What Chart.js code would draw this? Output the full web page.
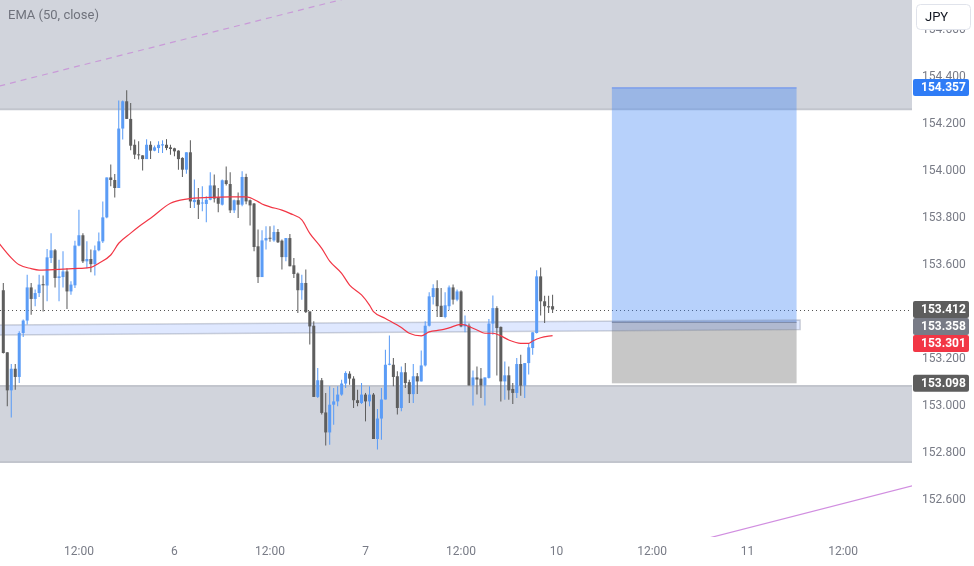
<!DOCTYPE html>
<html>
<head>
<meta charset="utf-8">
<script src="https://cdn.jsdelivr.net/npm/chart.js@4.4.1/dist/chart.umd.min.js"></script>
<style>
html, body { margin: 0; padding: 0; background: #fff; }
#wrap { width: 974px; height: 566px; position: relative; }
</style>
</head>
<body>
<div id="wrap"><canvas id="chart" width="974" height="566"></canvas></div>
<script>
// 30 min candles, [open, high, low, close]
var ohlc = [
  [153.494, 153.525, 153.225, 153.227], [153.230, 153.230, 153.000, 153.068], [153.068, 153.180, 152.953, 153.160],
  [153.160, 153.180, 153.071, 153.125], [153.125, 153.319, 153.099, 153.312], [153.312, 153.370, 153.295, 153.365],
  [153.365, 153.560, 153.348, 153.506], [153.506, 153.525, 153.390, 153.457], [153.457, 153.497, 153.426, 153.482],
  [153.482, 153.560, 153.465, 153.518], [153.520, 153.557, 153.404, 153.515], [153.514, 153.669, 153.447, 153.634],
  [153.631, 153.737, 153.610, 153.664], [153.664, 153.670, 153.506, 153.546], [153.546, 153.624, 153.447, 153.553],
  [153.550, 153.660, 153.506, 153.574], [153.574, 153.588, 153.414, 153.489], [153.489, 153.532, 153.475, 153.518],
  [153.515, 153.705, 153.503, 153.684], [153.684, 153.837, 153.681, 153.728], [153.728, 153.737, 153.610, 153.617],
  [153.617, 153.702, 153.588, 153.627], [153.627, 153.667, 153.571, 153.605], [153.605, 153.684, 153.557, 153.664],
  [153.664, 153.740, 153.660, 153.702], [153.702, 153.872, 153.695, 153.804], [153.804, 153.974, 153.800, 153.974],
  [153.974, 154.029, 153.936, 153.963], [153.963, 153.989, 153.889, 153.929], [153.929, 154.301, 153.929, 154.182],
  [154.182, 154.301, 154.135, 154.298], [154.298, 154.345, 154.223, 154.223], [154.223, 154.291, 154.090, 154.109],
  [154.113, 154.135, 154.052, 154.071], [154.071, 154.128, 154.050, 154.068], [154.068, 154.068, 154.003, 154.052],
  [154.052, 154.137, 154.052, 154.113], [154.113, 154.128, 154.052, 154.088], [154.088, 154.110, 154.085, 154.102],
  [154.099, 154.128, 154.078, 154.113], [154.110, 154.132, 154.078, 154.115], [154.113, 154.137, 154.090, 154.099],
  [154.102, 154.113, 154.071, 154.095], [154.098, 154.100, 154.064, 154.085], [154.088, 154.090, 154.007, 154.052],
  [154.057, 154.060, 153.976, 154.007], [154.007, 154.081, 153.990, 154.081], [154.081, 154.132, 153.844, 153.872],
  [153.869, 153.965, 153.844, 153.879], [153.879, 153.929, 153.797, 153.858], [153.863, 153.936, 153.830, 153.865],
  [153.861, 153.894, 153.783, 153.879], [153.879, 153.996, 153.877, 153.940], [153.940, 153.986, 153.867, 153.884],
  [153.890, 153.929, 153.826, 153.862], [153.858, 153.965, 153.855, 153.962], [153.962, 154.021, 153.940, 153.946],
  [153.946, 153.996, 153.823, 153.834], [153.834, 153.880, 153.823, 153.877], [153.877, 153.910, 153.801, 153.858],
  [153.858, 154.000, 153.851, 153.976], [153.976, 153.990, 153.860, 153.872], [153.877, 153.880, 153.769, 153.855],
  [153.863, 153.865, 153.660, 153.678], [153.681, 153.752, 153.525, 153.550], [153.550, 153.749, 153.550, 153.706],
  [153.706, 153.766, 153.667, 153.716], [153.715, 153.766, 153.700, 153.713], [153.706, 153.769, 153.700, 153.742],
  [153.742, 153.755, 153.695, 153.698], [153.705, 153.710, 153.582, 153.635], [153.635, 153.716, 153.617, 153.716],
  [153.716, 153.733, 153.596, 153.596], [153.600, 153.631, 153.546, 153.563], [153.565, 153.570, 153.397, 153.494],
  [153.494, 153.560, 153.454, 153.525], [153.525, 153.582, 153.397, 153.401], [153.404, 153.404, 153.263, 153.340],
  [153.343, 153.362, 153.040, 153.040], [153.040, 153.163, 153.035, 153.111], [153.111, 153.121, 152.965, 152.972],
  [152.974, 153.057, 152.833, 152.889], [152.889, 153.085, 152.837, 153.007], [153.007, 153.078, 152.922, 153.021],
  [153.021, 153.085, 153.000, 153.050], [153.050, 153.113, 153.045, 153.097], [153.097, 153.149, 153.078, 153.142],
  [153.139, 153.149, 153.092, 153.118], [153.118, 153.128, 152.993, 153.026], [153.026, 153.071, 153.000, 153.014],
  [153.014, 153.099, 153.010, 153.050], [153.050, 153.057, 152.936, 153.021], [153.021, 153.085, 153.000, 153.050],
  [153.050, 153.057, 152.861, 152.861], [152.861, 152.989, 152.816, 152.948], [152.948, 153.078, 152.858, 153.029],
  [153.029, 153.241, 153.029, 153.177], [153.177, 153.301, 153.175, 153.180], [153.177, 153.206, 153.085, 153.125],
  [153.128, 153.149, 152.965, 152.993], [152.993, 153.170, 152.979, 153.145], [153.145, 153.184, 153.078, 153.099],
  [153.103, 153.113, 153.014, 153.052], [153.052, 153.180, 153.014, 153.128], [153.128, 153.142, 153.052, 153.106],
  [153.106, 153.238, 153.106, 153.174], [153.174, 153.362, 153.170, 153.343], [153.343, 153.485, 153.340, 153.468],
  [153.465, 153.520, 153.433, 153.503], [153.503, 153.536, 153.380, 153.426], [153.428, 153.503, 153.380, 153.380],
  [153.380, 153.485, 153.375, 153.430], [153.426, 153.514, 153.409, 153.506], [153.506, 153.518, 153.433, 153.454],
  [153.454, 153.497, 153.447, 153.489], [153.489, 153.494, 153.337, 153.340], [153.340, 153.386, 153.315, 153.350],
  [153.343, 153.352, 153.089, 153.089], [153.089, 153.153, 153.004, 153.123], [153.123, 153.170, 153.050, 153.114],
  [153.118, 153.163, 153.035, 153.089], [153.089, 153.123, 153.004, 153.123], [153.121, 153.372, 153.118, 153.352],
  [153.352, 153.472, 153.305, 153.418], [153.418, 153.426, 153.131, 153.333], [153.338, 153.340, 153.021, 153.106],
  [153.106, 153.191, 153.028, 153.132], [153.132, 153.170, 153.028, 153.068], [153.074, 153.099, 153.010, 153.057],
  [153.057, 153.206, 153.035, 153.180], [153.180, 153.220, 153.045, 153.088], [153.088, 153.184, 153.035, 153.184],
  [153.184, 153.269, 153.135, 153.251], [153.248, 153.315, 153.220, 153.315], [153.312, 153.579, 153.310, 153.553],
  [153.553, 153.591, 153.386, 153.447], [153.447, 153.471, 153.355, 153.426], [153.426, 153.471, 153.397, 153.421],
  [153.426, 153.475, 153.397, 153.412]
];

// EMA(50) read at some candle positions
var emaIdx = [-1, 2, 4, 7, 9, 14, 19, 22, 24, 27, 29, 32, 34, 37, 42, 46, 52, 57, 61, 64, 65, 67, 70, 72, 75, 77,
  80, 82, 85, 87, 90, 92, 93, 96, 100, 102, 105, 107, 110, 112, 115, 116, 119, 121, 123, 125, 127, 130, 132, 133, 135, 138];
var emaVal = [153.692, 153.632, 153.602, 153.586, 153.580, 153.583, 153.587, 153.591, 153.609, 153.644, 153.694, 153.737,
  153.764, 153.800, 153.864, 153.882, 153.889, 153.891, 153.891, 153.871, 153.861, 153.849, 153.835, 153.821, 153.793,
  153.736, 153.672, 153.618, 153.566, 153.516, 153.474, 153.431, 153.403, 153.374, 153.335, 153.311, 153.300, 153.317,
  153.325, 153.334, 153.349, 153.346, 153.325, 153.311, 153.311, 153.300, 153.282, 153.268, 153.268, 153.278, 153.292, 153.301];

var timeTickIdx = [19, 43, 67, 91, 115, 139, 163, 187, 211];
var timeTickLabels = ['12:00', '6', '12:00', '7', '12:00', '10', '12:00', '11', '12:00'];
var priceTicks = [152.6, 152.8, 153.0, 153.2, 153.4, 153.6, 153.8, 154.0, 154.2, 154.4, 154.6];

// drawings, in candle index / price units
var topZone = [154.264, 155.2];
var bottomZone = [152.763, 153.086];
var bandLeft = [-1, 153.304, 153.346];
var bandRight = [200.2, 153.327, 153.367];
var posRange = [152.9, 199.3];
var posLevels = [154.357, 153.358, 153.098]; // target, entry, stop
var trendDash = [[-1, 154.363], [100, 154.795]];
var trendSolid = [[175, 152.430], [230, 152.669]];
var lastPrice = 153.412;
var tagPrices = [154.357, 153.412, 153.358, 153.301, 153.098];
var tagColors = ['#2f7cf6', '#5d5d5d', '#787b86', '#f23645', '#5d5d5d'];

var upColor = '#5b9cf6';
var downColor = '#5e5e5e';
var candleColors = ohlc.map(function (d) { return d[3] >= d[0] ? upColor : downColor; });

var drawings = {
  id: 'drawings',
  beforeDatasetsDraw: function (chart) {
    var ctx = chart.ctx, a = chart.chartArea, x = chart.scales.x, y = chart.scales.y;
    ctx.save();
    ctx.beginPath();
    ctx.rect(a.left, a.top, a.right - a.left, a.bottom - a.top);
    ctx.clip();

    [topZone, bottomZone].forEach(function (z) {
      var y0 = y.getPixelForValue(z[0]), y1 = y.getPixelForValue(z[1]);
      ctx.fillStyle = '#d1d4dc';
      ctx.fillRect(a.left, y1, a.right - a.left, y0 - y1);
      ctx.strokeStyle = '#c2c5cd';
      ctx.lineWidth = 2;
      ctx.beginPath();
      ctx.moveTo(a.left, y0); ctx.lineTo(a.right, y0);
      ctx.moveTo(a.left, y1); ctx.lineTo(a.right, y1);
      ctx.stroke();
    });

    // dashed trend line top-left
    ctx.strokeStyle = '#c99ad8';
    ctx.lineWidth = 1.2;
    ctx.setLineDash([6, 5]);
    ctx.beginPath();
    ctx.moveTo(x.getPixelForValue(trendDash[0][0]), y.getPixelForValue(trendDash[0][1]));
    ctx.lineTo(x.getPixelForValue(trendDash[1][0]), y.getPixelForValue(trendDash[1][1]));
    ctx.stroke();
    ctx.setLineDash([]);

    // solid trend line bottom-right
    ctx.strokeStyle = '#d18ee0';
    ctx.lineWidth = 1.2;
    ctx.beginPath();
    ctx.moveTo(x.getPixelForValue(trendSolid[0][0]), y.getPixelForValue(trendSolid[0][1]));
    ctx.lineTo(x.getPixelForValue(trendSolid[1][0]), y.getPixelForValue(trendSolid[1][1]));
    ctx.stroke();

    // last price dotted line
    var ly = Math.round(y.getPixelForValue(lastPrice)) + 0.5;
    ctx.strokeStyle = '#555';
    ctx.lineWidth = 1;
    ctx.setLineDash([1, 3]);
    ctx.beginPath();
    ctx.moveTo(a.left, ly); ctx.lineTo(a.right, ly);
    ctx.stroke();
    ctx.setLineDash([]);

    // long position tool
    var px0 = x.getPixelForValue(posRange[0]), px1 = x.getPixelForValue(posRange[1]);
    var pt = y.getPixelForValue(posLevels[0]), pe = y.getPixelForValue(posLevels[1]), ps = y.getPixelForValue(posLevels[2]);
    ctx.fillStyle = 'rgba(66,133,244,0.38)';
    ctx.fillRect(px0, pt, px1 - px0, pe - pt);
    ctx.fillStyle = 'rgba(130,130,130,0.45)';
    ctx.fillRect(px0, pe, px1 - px0, ps - pe);
    ctx.strokeStyle = 'rgba(41,98,255,0.45)';
    ctx.lineWidth = 1;
    ctx.beginPath(); ctx.moveTo(px0, pt + 0.5); ctx.lineTo(px1, pt + 0.5); ctx.stroke();
    ctx.strokeStyle = '#787b86';
    ctx.beginPath(); ctx.moveTo(px0, pe); ctx.lineTo(px1, pe); ctx.stroke();

    // support band
    var bx0 = x.getPixelForValue(bandLeft[0]), bx1 = x.getPixelForValue(bandRight[0]);
    ctx.fillStyle = 'rgba(41,98,255,0.15)';
    ctx.strokeStyle = 'rgba(120,128,150,0.35)';
    ctx.lineWidth = 1.5;
    ctx.beginPath();
    ctx.moveTo(bx0, y.getPixelForValue(bandLeft[2]));
    ctx.lineTo(bx1, y.getPixelForValue(bandRight[2]));
    ctx.lineTo(bx1, y.getPixelForValue(bandRight[1]));
    ctx.lineTo(bx0, y.getPixelForValue(bandLeft[1]));
    ctx.closePath();
    ctx.fill();
    ctx.stroke();

    ctx.restore();
  },
  afterDraw: function (chart) {
    var ctx = chart.ctx, a = chart.chartArea, y = chart.scales.y;
    ctx.save();

    ctx.fillStyle = '#6f727c';
    ctx.font = '13px Roboto';
    ctx.textBaseline = 'middle';
    ctx.textAlign = 'left';
    ctx.fillText('EMA (50, close)', 8, 16);

    // price tags on the axis, pushed down when they overlap
    var prevY = -100;
    var tags = tagPrices.map(function (p, i) { return { p: p, c: tagColors[i], y: y.getPixelForValue(p) }; });
    tags.sort(function (u, v) { return u.y - v.y; });
    ctx.font = 'bold 12px Roboto';
    tags.forEach(function (t) {
      var cy = Math.max(t.y, prevY + 17);
      prevY = cy;
      ctx.fillStyle = t.c;
      ctx.beginPath();
      ctx.roundRect(a.right + 1, cy - 8.5, 56, 17, 2);
      ctx.fill();
      ctx.fillStyle = '#fff';
      ctx.fillText(t.p.toFixed(3), a.right + 9, cy + 0.5);
    });

    // currency box
    ctx.fillStyle = '#fff';
    ctx.strokeStyle = '#e0e3eb';
    ctx.lineWidth = 1;
    ctx.beginPath();
    ctx.roundRect(a.right + 4.5, 4.5, 54, 25, 4);
    ctx.fill();
    ctx.stroke();
    ctx.fillStyle = '#131722';
    ctx.font = '13px Roboto';
    ctx.fillText('JPY', a.right + 13, 17.5);

    ctx.restore();
  }
};

new Chart(document.getElementById('chart'), {
  type: 'bar',
  data: {
    datasets: [
      {
        type: 'line',
        label: 'EMA',
        data: emaIdx.map(function (v, i) { return { x: v, y: emaVal[i] }; }),
        borderColor: '#f23645',
        borderWidth: 1.2,
        pointRadius: 0,
        cubicInterpolationMode: 'monotone',
        order: 0
      },
      {
        label: 'body',
        data: ohlc.map(function (d, i) { return { x: i, y: [d[0], d[3]] }; }),
        backgroundColor: candleColors,
        grouped: false,
        categoryPercentage: 1,
        barPercentage: 0.76,
        minBarLength: 1,
        order: 1
      },
      {
        label: 'wick',
        data: ohlc.map(function (d, i) { return { x: i, y: [d[2], d[1]] }; }),
        backgroundColor: candleColors,
        grouped: false,
        categoryPercentage: 1,
        barPercentage: 0.26,
        order: 2
      }
    ]
  },
  options: {
    responsive: false,
    animation: false,
    devicePixelRatio: 1,
    layout: { padding: 0 },
    plugins: { legend: { display: false }, tooltip: { enabled: false } },
    scales: {
      x: {
        type: 'linear',
        min: -0.83,
        max: 228.3,
        offset: false,
        grid: { display: false, drawTicks: false },
        border: { display: false },
        afterBuildTicks: function (s) { s.ticks = timeTickIdx.map(function (v) { return { value: v }; }); },
        ticks: {
          autoSkip: false,
          maxRotation: 0,
          padding: 8,
          color: '#787b86',
          font: { family: 'Roboto', size: 12 },
          callback: function (v) { return timeTickLabels[timeTickIdx.indexOf(v)]; }
        },
        afterFit: function (s) { s.height = 29; s.paddingLeft = 0; s.paddingRight = 0; }
      },
      y: {
        position: 'right',
        min: 152.444,
        max: 154.729,
        beginAtZero: false,
        grid: { display: false, drawTicks: false },
        border: { display: false },
        afterBuildTicks: function (s) { s.ticks = priceTicks.map(function (v) { return { value: v }; }); },
        ticks: {
          padding: 10,
          color: '#787b86',
          font: { family: 'Roboto', size: 12 },
          callback: function (v) { return v.toFixed(3); }
        },
        afterFit: function (s) { s.width = 62; s.paddingTop = 0; s.paddingBottom = 0; }
      }
    }
  },
  plugins: [drawings]
});
</script>
</body>
</html>
